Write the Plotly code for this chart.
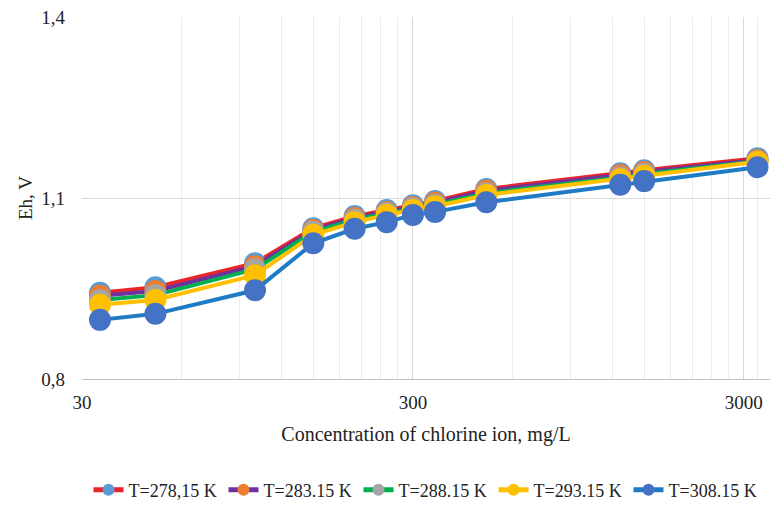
import plotly.graph_objects as go
import math

conc = [34, 50, 100, 150, 200, 250, 300, 350, 500, 1270, 1500, 3300]
names = ["T=278,15 K", "T=283.15 K", "T=288.15 K", "T=293.15 K", "T=308.15 K"]
eh_278 = [0.943, 0.952, 0.992, 1.050, 1.070, 1.080, 1.088, 1.095, 1.115, 1.141, 1.146, 1.166]
eh_283 = [0.938, 0.946, 0.987, 1.047, 1.067, 1.077, 1.085, 1.092, 1.112, 1.138, 1.143, 1.163]
eh_288 = [0.931, 0.939, 0.982, 1.044, 1.064, 1.075, 1.083, 1.089, 1.108, 1.134, 1.140, 1.161]
eh_293 = [0.923, 0.931, 0.972, 1.039, 1.060, 1.072, 1.080, 1.086, 1.105, 1.131, 1.137, 1.160]
eh_308 = [0.898, 0.908, 0.947, 1.025, 1.049, 1.060, 1.072, 1.077, 1.093, 1.122, 1.128, 1.151]
x_ticks = [30, 300, 3000]
x_ticktext = ["30", "300", "3000"]
y_ticks = [0.8, 1.1, 1.4]

line_colors = ["#E8262A", "#7030A0", "#00B050", "#FFC000", "#1F7BC4"]
marker_colors = ["#5B9BD5", "#ED7D31", "#A5A5A5", "#FFC000", "#4472C4"]
series = [eh_278, eh_283, eh_288, eh_293, eh_308]

FONT = "Liberation Serif"
fig = go.Figure()
for nm, ys, lc, mc in zip(names, series, line_colors, marker_colors):
    fig.add_trace(go.Scatter(
        x=conc, y=ys, name=nm, mode="lines+markers",
        line=dict(color=lc, width=4),
        marker=dict(color=mc, size=22),
    ))

minor_vals = [30 * k for k in range(2, 10)] + [300 * k for k in range(2, 10)] + [3300]

fig.update_layout(
    width=775, height=517,
    margin=dict(l=82, r=5, t=17, b=138),
    paper_bgcolor="white", plot_bgcolor="white",
    separators=", ",
    font=dict(family=FONT, size=18, color="#222222"),
    showlegend=True,
    legend=dict(orientation="h", x=0.5, xanchor="center", y=-0.307, yanchor="middle",
                font=dict(family=FONT, size=18), itemsizing="constant",
                traceorder="normal", tracegroupgap=0, itemwidth=30,
                entrywidth=90, entrywidthmode="pixels"),
    xaxis=dict(
        type="log", range=[math.log10(30), math.log10(3600)],
        tickvals=x_ticks, ticktext=x_ticktext,
        showgrid=True, gridcolor="#d9d9d9", gridwidth=1,
        minor=dict(tickvals=minor_vals, showgrid=True, gridcolor="#ececec", gridwidth=1, ticks=""),
        showline=True, linecolor="#bfbfbf", linewidth=1,
        ticks="", ticklabelstandoff=6, zeroline=False,
        title=dict(text="Concentration of chlorine ion, mg/L", standoff=15, font=dict(family=FONT, size=20)),
        tickfont=dict(family=FONT, size=19),
    ),
    yaxis=dict(
        range=[0.8, 1.4], tickvals=y_ticks, tickformat=".1f",
        showgrid=True, gridcolor="#d9d9d9", gridwidth=1,
        showline=False, zeroline=False, ticks="", ticklabelstandoff=16,
        title=dict(text="Eh, V", standoff=3, font=dict(family=FONT, size=19)),
        tickfont=dict(family=FONT, size=19),
    ),
)

fig.write_html("out.html", config={"displayModeBar": False},
               post_script="document.body.style.margin='0';")
